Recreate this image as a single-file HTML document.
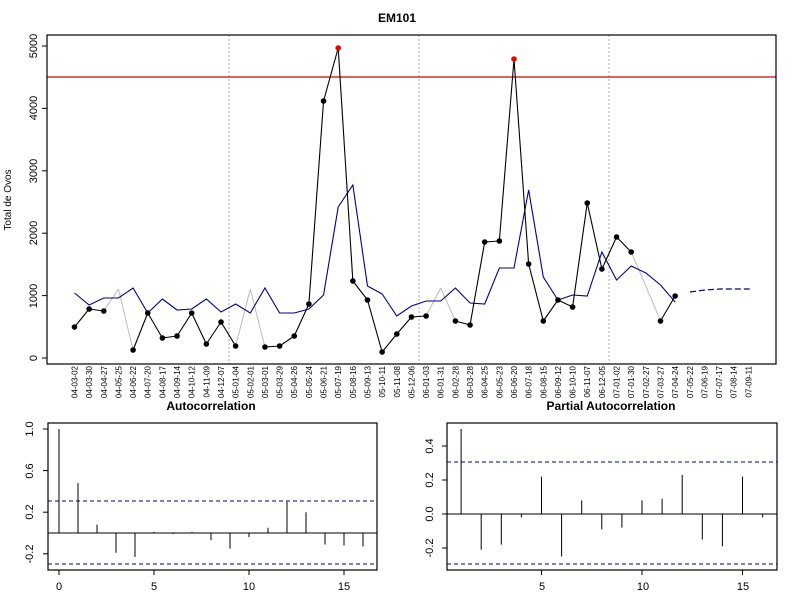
<!DOCTYPE html>
<html><head><meta charset="utf-8"><style>
html,body{margin:0;padding:0;background:#fff;width:800px;height:600px;overflow:hidden}
svg{display:block}
text{font-family:"Liberation Sans",sans-serif;fill:#000}
</style></head><body>
<svg id="s" width="800" height="600" xmlns="http://www.w3.org/2000/svg">
<rect width="800" height="600" fill="#fff"/>
<text x="397" y="22" font-size="12" font-weight="bold" text-anchor="middle">EM101</text>
<text transform="translate(11,200) rotate(-90)" font-size="10" text-anchor="middle">Total de Ovos</text>
<g font-size="11" text-anchor="middle">
<text transform="translate(37,358) rotate(-90)">0</text>
<text transform="translate(37,296) rotate(-90)">1000</text>
<text transform="translate(37,233) rotate(-90)">2000</text>
<text transform="translate(37,171) rotate(-90)">3000</text>
<text transform="translate(37,108) rotate(-90)">4000</text>
<text transform="translate(37,46) rotate(-90)">5000</text>
</g>
<g id="xl" font-size="8" text-anchor="end">
<text transform="translate(77.5,366) rotate(-90)">04-03-02</text>
<text transform="translate(92.1,366) rotate(-90)">04-03-30</text>
<text transform="translate(106.8,366) rotate(-90)">04-04-27</text>
<text transform="translate(121.4,366) rotate(-90)">04-05-25</text>
<text transform="translate(136.1,366) rotate(-90)">04-06-22</text>
<text transform="translate(150.7,366) rotate(-90)">04-07-20</text>
<text transform="translate(165.4,366) rotate(-90)">04-08-17</text>
<text transform="translate(180.0,366) rotate(-90)">04-09-14</text>
<text transform="translate(194.7,366) rotate(-90)">04-10-12</text>
<text transform="translate(209.3,366) rotate(-90)">04-11-09</text>
<text transform="translate(224.0,366) rotate(-90)">04-12-07</text>
<text transform="translate(238.6,366) rotate(-90)">05-01-04</text>
<text transform="translate(253.3,366) rotate(-90)">05-02-01</text>
<text transform="translate(267.9,366) rotate(-90)">05-03-01</text>
<text transform="translate(282.6,366) rotate(-90)">05-03-29</text>
<text transform="translate(297.2,366) rotate(-90)">05-04-26</text>
<text transform="translate(311.9,366) rotate(-90)">05-05-24</text>
<text transform="translate(326.5,366) rotate(-90)">05-06-21</text>
<text transform="translate(341.2,366) rotate(-90)">05-07-19</text>
<text transform="translate(355.8,366) rotate(-90)">05-08-16</text>
<text transform="translate(370.5,366) rotate(-90)">05-09-13</text>
<text transform="translate(385.1,366) rotate(-90)">05-10-11</text>
<text transform="translate(399.8,366) rotate(-90)">05-11-08</text>
<text transform="translate(414.4,366) rotate(-90)">05-12-06</text>
<text transform="translate(429.1,366) rotate(-90)">06-01-03</text>
<text transform="translate(443.7,366) rotate(-90)">06-01-31</text>
<text transform="translate(458.4,366) rotate(-90)">06-02-28</text>
<text transform="translate(473.0,366) rotate(-90)">06-03-28</text>
<text transform="translate(487.7,366) rotate(-90)">06-04-25</text>
<text transform="translate(502.3,366) rotate(-90)">06-05-23</text>
<text transform="translate(517.0,366) rotate(-90)">06-06-20</text>
<text transform="translate(531.6,366) rotate(-90)">06-07-18</text>
<text transform="translate(546.3,366) rotate(-90)">06-08-15</text>
<text transform="translate(560.9,366) rotate(-90)">06-09-12</text>
<text transform="translate(575.6,366) rotate(-90)">06-10-10</text>
<text transform="translate(590.2,366) rotate(-90)">06-11-07</text>
<text transform="translate(604.9,366) rotate(-90)">06-12-05</text>
<text transform="translate(619.5,366) rotate(-90)">07-01-02</text>
<text transform="translate(634.2,366) rotate(-90)">07-01-30</text>
<text transform="translate(648.8,366) rotate(-90)">07-02-27</text>
<text transform="translate(663.5,366) rotate(-90)">07-03-27</text>
<text transform="translate(678.1,366) rotate(-90)">07-04-24</text>
<text transform="translate(692.8,366) rotate(-90)">07-05-22</text>
<text transform="translate(707.4,366) rotate(-90)">07-06-19</text>
<text transform="translate(722.1,366) rotate(-90)">07-07-17</text>
<text transform="translate(736.7,366) rotate(-90)">07-08-14</text>
<text transform="translate(751.4,366) rotate(-90)">07-09-11</text>
</g>
<text x="211" y="410" font-size="12" font-weight="bold" text-anchor="middle">Autocorrelation</text>
<text x="611" y="410" font-size="12" font-weight="bold" text-anchor="middle">Partial Autocorrelation</text>
<g font-size="11" text-anchor="middle">
<text transform="translate(33,429) rotate(-90)">1.0</text>
<text transform="translate(33,471) rotate(-90)">0.6</text>
<text transform="translate(33,512) rotate(-90)">0.2</text>
<text transform="translate(33,554) rotate(-90)">-0.2</text>
<text x="59" y="590">0</text><text x="154" y="590">5</text><text x="249" y="590">10</text><text x="344" y="590">15</text>
<text transform="translate(433,446) rotate(-90)">0.4</text>
<text transform="translate(433,480) rotate(-90)">0.2</text>
<text transform="translate(433,514) rotate(-90)">0.0</text>
<text transform="translate(433,548) rotate(-90)">-0.2</text>
<text x="542" y="590">5</text><text x="643" y="590">10</text><text x="743" y="590">15</text>
</g>
<g id="g"></g>
</svg>
<script>
var NS="http://www.w3.org/2000/svg",G=document.getElementById('g');
function el(t,a){var e=document.createElementNS(NS,t);for(var k in a)e.setAttribute(k,a[k]);G.appendChild(e);return e;}
function ln(x1,y1,x2,y2,c,w,d){var a={x1:x1,y1:y1,x2:x2,y2:y2,stroke:c||'#000','stroke-width':w||1};if(d)a['stroke-dasharray']=d;el('line',a);}
function X(i){return 74.5+14.65*i;}
// main box
ln(229,35,229,364,'#aaa',1,'2,2');ln(419,35,419,364,'#aaa',1,'2,2');ln(609,35,609,364,'#aaa',1,'2,2');
ln(47,77,776,77,'#c00',1.2);
var bk=[327,309,311,null,350,313,338,336,313,344,322,346,null,347,346,336,304,101,48,281,300,352,334,317,316,null,321,325,242,241,59,264,321,300,307,203,269,237,252,null,321,296];
var gy={3:289,12:289,25:288,39:286};
var bl=[293,305,298,298,288,313,299,310,309,299,312,304,313,288,313,313,309,295,207,185,286,294,316,306,301,301,288,303,304,268,268,190,277,300,295,296,252,280,266,273,285,302];
// gray segments
for(var k in gy){k=+k;ln(X(k-1),bk[k-1],X(k),gy[k],'#bbb',1);ln(X(k),gy[k],X(k+1),bk[k+1],'#bbb',1);}
var p='';for(var i=0;i<bl.length;i++)p+=(i?'L':'M')+X(i)+','+bl[i];
el('path',{d:p,fill:'none',stroke:'#00008b','stroke-width':1.1});
for(i=0;i<bk.length-1;i++){if(bk[i]!=null&&bk[i+1]!=null)ln(X(i),bk[i],X(i+1),bk[i+1],'#000',1.1);}
for(i=0;i<bk.length;i++){if(bk[i]!=null)el('circle',{cx:X(i),cy:bk[i],r:2.8,fill:(i==18||i==30)?'#e00':'#000'});}
el('path',{d:'M690,292 L705,290 L720,289 L750,289',fill:'none',stroke:'#00008b','stroke-width':1.2,'stroke-dasharray':'6,3'});
el('rect',{x:47,y:35,width:729,height:329,fill:'none',stroke:'#000','stroke-width':1.2});
// y ticks main
[0,1000,2000,3000,4000,5000].forEach(function(v){var y=358-v*0.0624;ln(42,y,47,y);});
// ACF
el('rect',{x:48,y:423,width:329,height:147,fill:'none',stroke:'#000','stroke-width':1.2});
ln(48,533,377,533);ln(48,501,377,501,'#00008b',1,'4,3');ln(48,564,377,564,'#00008b',1,'4,3');
var acf=[1,0.48,0.08,-0.19,-0.23,0.01,-0.01,0.01,-0.07,-0.15,-0.04,0.05,0.3,0.2,-0.11,-0.12,-0.13];
acf.forEach(function(v,i){ln(59+19*i,533,59+19*i,533-v*104);});
[1,0.6,0.2,-0.2].forEach(function(v){ln(43,533-v*104,48,533-v*104);});
[0,5,10,15].forEach(function(v){ln(59+19*v,570,59+19*v,575);});
// PACF
el('rect',{x:447,y:423,width:330,height:147,fill:'none',stroke:'#000','stroke-width':1.2});
ln(447,514,777,514);ln(447,462,777,462,'#00008b',1,'4,3');ln(447,564,777,564,'#00008b',1,'4,3');
var pacf=[0.5,-0.21,-0.18,-0.02,0.22,-0.25,0.08,-0.09,-0.08,0.08,0.09,0.23,-0.15,-0.19,0.22,-0.02];
pacf.forEach(function(v,i){var x=441+20.1*(i+1);ln(x,514,x,514-v*170);});
[0.4,0.2,0,-0.2].forEach(function(v){ln(442,514-v*170,447,514-v*170);});
[5,10,15].forEach(function(v){ln(441+20.1*v,570,441+20.1*v,575);});
</script>
</body></html>
